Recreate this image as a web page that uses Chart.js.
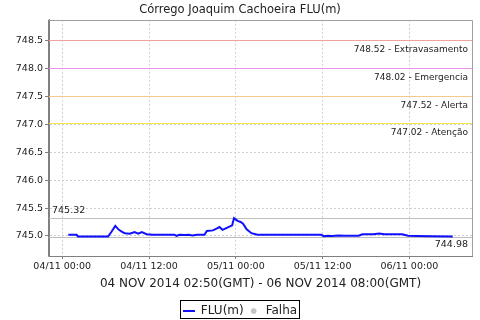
<!DOCTYPE html>
<html>
<head>
<meta charset="utf-8">
<script src="https://cdn.jsdelivr.net/npm/chart.js@4.4.1/dist/chart.umd.min.js"></script>
<style>
  html, body { margin: 0; padding: 0; background: #fff; }
</style>
</head>
<body>
<canvas id="myChart" width="480" height="320"></canvas>
<script>
// leituras (hora local, nivel em m)
const horas = [
  '04/11 00:50', '04/11 01:20', '04/11 02:00', '04/11 02:10', '04/11 04:00', '04/11 06:20',
  '04/11 06:50', '04/11 07:20', '04/11 07:50', '04/11 08:20', '04/11 08:40', '04/11 09:20',
  '04/11 10:00', '04/11 10:30', '04/11 11:00', '04/11 11:40', '04/11 12:30', '04/11 14:00',
  '04/11 15:30', '04/11 15:50', '04/11 16:10', '04/11 17:00', '04/11 17:30', '04/11 18:00',
  '04/11 18:40', '04/11 19:40', '04/11 20:00', '04/11 20:50', '04/11 21:20', '04/11 21:45',
  '04/11 22:10', '04/11 22:50', '04/11 23:30', '04/11 23:45', '05/11 00:15', '05/11 00:40',
  '05/11 01:00', '05/11 01:30', '05/11 02:10', '05/11 03:00', '05/11 11:50', '05/11 12:10',
  '05/11 12:40', '05/11 13:20', '05/11 14:10', '05/11 15:00', '05/11 17:00', '05/11 17:30',
  '05/11 19:00', '05/11 19:50', '05/11 20:30', '05/11 23:00', '05/11 23:50', '06/11 01:00',
  '06/11 03:00', '06/11 06:00'
];
const nivel = [
  745.02, 745.02, 745.02, 744.99, 744.99, 744.99,
  745.08, 745.18, 745.11, 745.07, 745.05, 745.04,
  745.07, 745.04, 745.07, 745.03, 745.02, 745.02,
  745.02, 745.00, 745.02, 745.015, 745.02, 745.01,
  745.02, 745.02, 745.09, 745.10, 745.13, 745.16,
  745.11, 745.15, 745.19, 745.32, 745.27, 745.25,
  745.22, 745.12, 745.05, 745.02, 745.02, 744.995,
  745.005, 745.00, 745.01, 745.005, 745.005, 745.03,
  745.03, 745.045, 745.03, 745.03, 745.005, 745.00,
  744.995, 744.99
];

// cotas de referencia
const cotaValores = [748.52, 748.02, 747.52, 747.02];
const cotaNomes = ['Extravasamento', 'Emergencia', 'Alerta', 'Atenção'];
const cotaCores = ['#f2a0a0', '#ee90ee', '#f6c890', '#f6e64a'];
const nivelMax = 745.32;
const nivelMin = 744.98;

// eixos
const xTickLabels = ['04/11 00:00', '04/11 12:00', '05/11 00:00', '05/11 12:00', '06/11 00:00'];
const xInicio = '03/11 22:10';
const xFim = '06/11 08:40';
const yTicks = [745.0, 745.5, 746.0, 746.5, 747.0, 747.5, 748.0, 748.5];
const yMin = 744.64;
const yMax = 748.88;

const titulo = 'Córrego Joaquim Cachoeira FLU(m)';
const periodo = '04 NOV 2014 02:50(GMT) - 06 NOV 2014 08:00(GMT)';

function toHours(s) {
  const [d, t] = s.split(' ');
  const dia = +d.split('/')[0];
  const [hh, mm] = t.split(':');
  return (dia - 4) * 24 + (+hh) + (+mm) / 60;
}

Chart.defaults.font.family = "'DejaVu Sans', sans-serif";
Chart.defaults.color = '#222';

// icone da legenda (linha azul)
const linhaIcone = document.createElement('canvas');
linhaIcone.width = 12;
linhaIcone.height = 2;
const lc = linhaIcone.getContext('2d');
lc.fillStyle = '#1010ff';
lc.fillRect(0, 0, 12, 2);

const cotasPlugin = {
  id: 'cotas',
  beforeDatasetsDraw(chart) {
    const { ctx, chartArea: a, scales: { y } } = chart;
    ctx.save();
    ctx.lineWidth = 1;
    ctx.setLineDash([]);
    ctx.font = "9px 'DejaVu Sans'";
    ctx.fillStyle = '#222';
    cotaValores.forEach((v, i) => {
      const py = Math.round(y.getPixelForValue(v)) + 0.5;
      ctx.strokeStyle = cotaCores[i];
      ctx.beginPath();
      ctx.moveTo(a.left, py);
      ctx.lineTo(a.right, py);
      ctx.stroke();
      ctx.textAlign = 'right';
      ctx.textBaseline = 'top';
      ctx.fillText(v.toFixed(2) + ' - ' + cotaNomes[i], a.right - 4, py + 5);
    });
    // max / min
    ctx.strokeStyle = '#bdbdbd';
    ctx.font = "9.5px 'DejaVu Sans'";
    const pMax = Math.round(y.getPixelForValue(nivelMax)) + 0.5;
    const pMin = Math.round(y.getPixelForValue(nivelMin)) + 0.5;
    ctx.beginPath();
    ctx.moveTo(a.left, pMax); ctx.lineTo(a.right, pMax);
    ctx.moveTo(a.left, pMin); ctx.lineTo(a.right, pMin);
    ctx.stroke();
    ctx.textAlign = 'left';
    ctx.textBaseline = 'bottom';
    ctx.fillText(nivelMax.toFixed(2), a.left + 3, pMax - 3);
    ctx.textAlign = 'right';
    ctx.textBaseline = 'top';
    ctx.fillText(nivelMin.toFixed(2), a.right - 4, pMin + 2);
    ctx.restore();
  },
  afterDraw(chart) {
    const { ctx, chartArea: a } = chart;
    ctx.save();
    ctx.strokeStyle = '#a0a0a0';
    ctx.lineWidth = 1;
    ctx.setLineDash([]);
    ctx.beginPath();
    ctx.moveTo(a.left, Math.round(a.top) + 0.5);
    ctx.lineTo(Math.round(a.right) + 0.5, Math.round(a.top) + 0.5);
    ctx.lineTo(Math.round(a.right) + 0.5, a.bottom);
    ctx.stroke();
    // eixos (linhas solidas)
    ctx.strokeStyle = '#808080';
    ctx.beginPath();
    ctx.moveTo(Math.round(a.left) - 0.5, a.top);
    ctx.lineTo(Math.round(a.left) - 0.5, Math.round(a.bottom) + 0.5);
    ctx.lineTo(a.right, Math.round(a.bottom) + 0.5);
    ctx.stroke();
    // moldura da legenda
    const boxes = chart.legend.legendHitBoxes;
    if (boxes && boxes.length) {
      const l = Math.min(...boxes.map(b => b.left));
      const r = Math.max(...boxes.map(b => b.left + b.width));
      const t = boxes[0].top;
      ctx.strokeStyle = '#000';
      ctx.strokeRect(Math.round(l) - 2.5, Math.round(t) - 4.5, Math.round(r - l) + 5, 18);
    }
    ctx.restore();
  }
};

const pontos = horas.map((h, i) => ({ x: toHours(h), y: nivel[i] }));

new Chart(document.getElementById('myChart'), {
  type: 'line',
  data: {
    datasets: [
      {
        label: 'FLU(m)',
        data: pontos,
        borderColor: '#1010ff',
        backgroundColor: '#1010ff',
        borderWidth: 2,
        pointRadius: 0,
        pointStyle: linhaIcone,
        tension: 0,
        yAxisID: 'y'
      },
      {
        label: 'Falha',
        data: [],
        borderColor: '#c4c4c4',
        backgroundColor: '#c4c4c4',
        borderWidth: 0,
        pointStyle: 'circle',
        yAxisID: 'y'
      }
    ]
  },
  options: {
    responsive: false,
    animation: false,
    layout: { padding: { left: 0, right: 0, top: 1, bottom: -7 } },
    plugins: {
      title: {
        display: true,
        text: titulo,
        font: { size: 11.5, weight: 'normal' },
        color: '#222',
        padding: { top: 2, bottom: 3 }
      },
      legend: {
        position: 'bottom',
        labels: {
          usePointStyle: true,
          boxWidth: 12,
          boxHeight: 4,
          padding: 4,
          font: { size: 12 },
          color: '#222'
        }
      },
      tooltip: { enabled: false }
    },
    scales: {
      x: {
        type: 'linear',
        min: toHours(xInicio),
        max: toHours(xFim),
        afterBuildTicks: s => { s.ticks = xTickLabels.map(l => ({ value: toHours(l) })); },
        afterFit: s => { s.height = 45; },
        ticks: {
          font: { size: 9.5 },
          padding: 2,
          maxRotation: 0,
          callback: (v, i) => xTickLabels[i]
        },
        grid: {
          color: '#d0d0d0',
          tickColor: '#808080',
          tickBorderDash: [],
          tickLength: 3
        },
        border: { color: '#808080', dash: [2, 2] },
        title: {
          display: true,
          text: periodo,
          font: { size: 12 },
          color: '#222',
          padding: { top: 0, bottom: 10 }
        }
      },
      y: {
        min: yMin,
        max: yMax,
        afterBuildTicks: s => { s.ticks = yTicks.map(v => ({ value: v })); },
        afterFit: s => { s.width = 49; },
        ticks: {
          font: { size: 9.5 },
          padding: 2,
          callback: v => v.toFixed(1)
        },
        grid: {
          color: '#d0d0d0',
          tickColor: '#808080',
          tickBorderDash: [],
          tickLength: 4
        },
        border: { color: '#808080', dash: [2, 2] }
      },
      yR: {
        position: 'right',
        display: true,
        afterFit: s => { s.width = 8; },
        ticks: { display: false },
        grid: { display: false },
        border: { display: false }
      }
    }
  },
  plugins: [cotasPlugin]
});
</script>
</body>
</html>
